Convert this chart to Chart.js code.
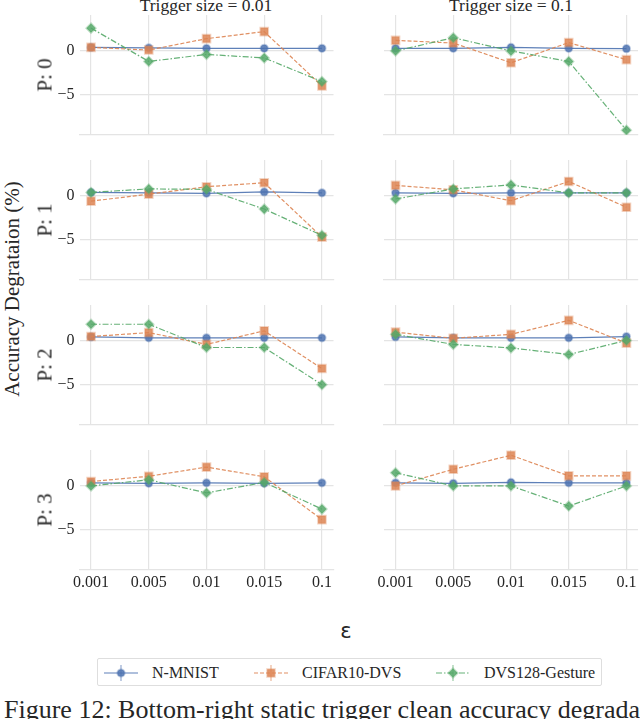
<!DOCTYPE html>
<html>
<head>
<meta charset="utf-8">
<script src="https://cdn.jsdelivr.net/npm/chart.js@4.4.1/dist/chart.umd.min.js"></script>
<style>
  body { margin: 0; width: 640px; height: 719px; overflow: hidden; background: #fff; position: relative;
         font-family: "Liberation Serif", "Times New Roman", serif; color: #262626; }
  canvas { position: absolute; }
  .txt { position: absolute; white-space: nowrap; line-height: 1; }
  .rot { transform: translate(-50%, -50%) rotate(-90deg); }
  .title { font-size: 17.5px; transform: translateX(-50%); }
  #legend { position: absolute; left: 97px; top: 658px; width: 503px; height: 26px; border: 1px solid #dedede;
            border-radius: 2px; font-size: 16px; }
  #legend .item { position: absolute; top: 4px; height: 20px; display: flex; align-items: center; }
  #legend svg { margin-right: 14px; }
</style>
</head>
<body>

<div class="txt title" style="left:206px; top:-3px;">Trigger size = 0.01</div>
<div class="txt title" style="left:511px; top:-3px;">Trigger size = 0.1</div>
<div class="txt rot" style="left:12px; top:289px; font-size:21px;">Accuracy Degrataion (%)</div>
<div class="txt" style="left:346px; top:631px; font-size:21px; font-family:'DejaVu Sans',sans-serif; transform:translate(-50%,-50%);">ε</div>
<div id="legend"></div>
<div class="txt" style="left:4px; top:697px; font-size:26px;">Figure 12: Bottom-right static trigger clean accuracy degradation</div>

<script>
// axes
const epsilons = ['0.001', '0.005', '0.01', '0.015', '0.1'];
const poisonLabels = ['P: 0', 'P: 1', 'P: 2', 'P: 3'];
const yTicks = [0, -5];
const seriesNames = ['N-MNIST', 'CIFAR10-DVS', 'DVS128-Gesture'];

// Trigger size = 0.01 (one row per P)
const nmnistSmall = [
    [0.4, 0.35, 0.3, 0.3, 0.3],
    [0.4, 0.35, 0.3, 0.45, 0.35],
    [0.45, 0.35, 0.35, 0.35, 0.35],
    [0.35, 0.3, 0.35, 0.3, 0.35]
];
const cifarSmall = [
    [0.4, 0.1, 1.4, 2.2, -4.0],
    [-0.6, 0.2, 1.05, 1.5, -4.7],
    [0.5, 0.95, -0.4, 1.15, -3.15],
    [0.5, 1.1, 2.15, 1.05, -3.85]
];
const gestureSmall = [
    [2.6, -1.2, -0.4, -0.8, -3.5],
    [0.4, 0.8, 0.75, -1.5, -4.5],
    [1.9, 1.9, -0.75, -0.75, -5.0],
    [0.0, 0.7, -0.8, 0.4, -2.65]
];

// Trigger size = 0.1
const nmnistLarge = [
    [0.3, 0.3, 0.4, 0.3, 0.25],
    [0.35, 0.3, 0.35, 0.35, 0.35],
    [0.45, 0.35, 0.35, 0.35, 0.5],
    [0.35, 0.3, 0.4, 0.35, 0.35]
];
const cifarLarge = [
    [1.2, 0.9, -1.35, 0.95, -1.0],
    [1.2, 0.7, -0.55, 1.65, -1.3],
    [1.0, 0.3, 0.75, 2.35, -0.25],
    [0.0, 1.9, 3.5, 1.15, 1.15]
];
const gestureLarge = [
    [0.0, 1.5, 0.0, -1.2, -9.05],
    [-0.35, 0.8, 1.25, 0.35, 0.35],
    [0.75, -0.4, -0.8, -1.55, 0.05],
    [1.5, 0.0, 0.0, -2.3, 0.0]
];

const styles = [
    { rgb: '76,114,176', point: 'circle', radius: 3.6, dash: [] },
    { rgb: '221,132,82', point: 'rect', radius: 5.4, dash: [4, 2] },
    { rgb: '85,168,104', point: 'rectRot', radius: 4.6, dash: [6, 2, 1.5, 2] }
];

Chart.defaults.font.family = 'Liberation Serif';
Chart.defaults.font.size = 16;
Chart.defaults.color = '#262626';

const gridColor = '#e4e4e4';
const plotTops = [15, 160, 305, 450];
const plotHeight = 120;

function makeDataset(values, k) {
    const s = styles[k];
    return {
        label: seriesNames[k],
        data: values.map((v, i) => ({ x: i, y: v })),
        borderColor: `rgba(${s.rgb},0.9)`,
        borderWidth: 1.2,
        borderDash: s.dash,
        pointStyle: s.point,
        pointRadius: s.radius,
        pointBackgroundColor: `rgba(${s.rgb},0.85)`,
        pointBorderColor: `rgba(${s.rgb},0.35)`,
        pointBorderWidth: 2,
        order: 2 - k,
        tension: 0
    };
}

function buildCell(row, col) {
    const left = col === 0;
    const bottom = row === 3;
    const xh = bottom ? 26 : 0;
    const canvas = document.createElement('canvas');
    const w = left ? 300 : 266;
    const h = 10 + plotHeight + 4 + xh;
    canvas.width = w;
    canvas.height = h;
    canvas.style.left = (left ? 40 : 374) + 'px';
    canvas.style.top = (plotTops[row] - 10) + 'px';
    document.body.appendChild(canvas);

    const series = left ? [nmnistSmall, cifarSmall, gestureSmall] : [nmnistLarge, cifarLarge, gestureLarge];

    new Chart(canvas.getContext('2d'), {
        type: 'line',
        data: { datasets: series.map((arr, k) => makeDataset(arr[row], k)) },
        options: {
            responsive: false,
            animation: false,
            devicePixelRatio: 1,
            layout: {
                autoPadding: false,
                padding: { top: 10, bottom: 4, left: left ? 0 : 10, right: left ? 6.5 : 2 }
            },
            plugins: { legend: { display: false }, tooltip: { enabled: false } },
            scales: {
                x: {
                    type: 'linear',
                    min: -0.2,
                    max: 4.2,
                    afterBuildTicks: (axis) => { axis.ticks = epsilons.map((_, i) => ({ value: i })); },
                    afterFit: (axis) => {
                        axis.height = xh;
                        axis.paddingLeft = 0;
                        axis.paddingRight = 0;
                    },
                    grid: { color: gridColor, lineWidth: 1.2, drawTicks: false },
                    border: { display: true, color: gridColor, width: 1.2 },
                    ticks: {
                        display: bottom,
                        padding: 3,
                        maxRotation: 0,
                        callback: (v) => epsilons[v] ?? ''
                    }
                },
                y: {
                    min: -9.6,
                    max: 4.1,
                    afterBuildTicks: (axis) => { axis.ticks = yTicks.map(v => ({ value: v })); },
                    afterFit: (axis) => {
                        axis.width = left ? 39.5 : 0;
                        axis.paddingTop = 0;
                        axis.paddingBottom = 0;
                    },
                    grid: { color: gridColor, lineWidth: 1.2, drawTicks: false },
                    border: { display: false },
                    ticks: {
                        display: left,
                        padding: 5,
                        callback: (v) => v < 0 ? '\u2212' + Math.abs(v) : String(v)
                    }
                }
            }
        }
    });

    if (left) {
        const lab = document.createElement('div');
        lab.className = 'txt rot';
        lab.style.fontSize = '21px';
        lab.style.left = '45px';
        lab.style.top = (plotTops[row] + plotHeight / 2) + 'px';
        lab.textContent = poisonLabels[row];
        document.body.appendChild(lab);
    }
}

for (let r = 0; r < 4; r++) {
    buildCell(r, 0);
    buildCell(r, 1);
}

// legend (line + errorbar + marker icons)
const legendX = [6, 156, 338];
const legend = document.getElementById('legend');
seriesNames.forEach((name, k) => {
    const s = styles[k];
    let marker;
    if (s.point === 'circle') {
        marker = `<circle cx="17" cy="10" r="3.6" fill="rgba(${s.rgb},0.85)" stroke="rgba(${s.rgb},0.35)" stroke-width="2"/>`;
    } else if (s.point === 'rect') {
        marker = `<rect x="13.2" y="6.2" width="7.6" height="7.6" fill="rgba(${s.rgb},0.85)" stroke="rgba(${s.rgb},0.35)" stroke-width="2"/>`;
    } else {
        marker = `<polygon points="17,5.4 21.6,10 17,14.6 12.4,10" fill="rgba(${s.rgb},0.85)" stroke="rgba(${s.rgb},0.35)" stroke-width="2"/>`;
    }
    const item = document.createElement('div');
    item.className = 'item';
    item.style.left = legendX[k] + 'px';
    item.innerHTML =
        `<svg width="34" height="20">` +
        `<line x1="0" y1="10" x2="34" y2="10" stroke="rgba(${s.rgb},0.9)" stroke-width="1.2" stroke-dasharray="${s.dash.join(' ') || 'none'}"/>` +
        `<line x1="17" y1="2" x2="17" y2="18" stroke="rgba(${s.rgb},0.6)" stroke-width="1.2"/>` +
        marker + `</svg><span>${name}</span>`;
    legend.appendChild(item);
});
</script>
</body>
</html>
